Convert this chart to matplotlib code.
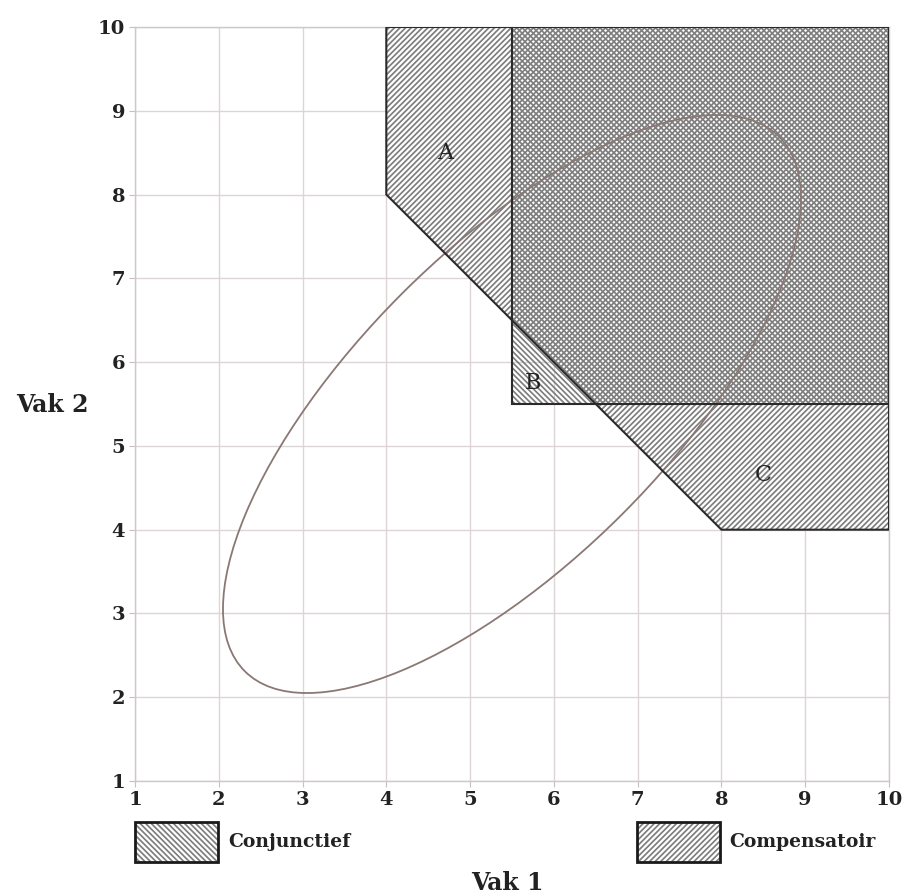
import numpy as np
import matplotlib
matplotlib.use("Agg")
import matplotlib.pyplot as plt
from matplotlib.patches import Polygon, Rectangle, Ellipse

# ---- data ----
x_ticks = [1, 2, 3, 4, 5, 6, 7, 8, 9, 10]
y_ticks = [1, 2, 3, 4, 5, 6, 7, 8, 9, 10]
axis_max = 10
conj_min = 5.5          # conjunctief: both scores >= 5.5
comp_sum = 12           # compensatoir: sum >= 12
comp_min = 4            # and each score >= 4
ellipse_center = (5.5, 5.5)
ellipse_width = 9.02    # full major axis
ellipse_height = 3.72   # full minor axis
ellipse_angle = 45
region_labels = ["A", "B", "C"]
region_label_pos = [(4.7, 8.5), (5.75, 5.75), (8.5, 4.65)]
legend_labels = ["Conjunctief", "Compensatoir"]

# ---- style ----
plt.rcParams['hatch.linewidth'] = 1.25
serif = ['DejaVu Serif']
hatch_col = '#7e7e7e'
text_col = '#222222'
h_ne = '//////'
h_nw = '\\\\\\\\\\\\'

fig = plt.figure(figsize=(9.15, 8.96), dpi=100)
ax = fig.add_axes([0.1475, 0.1283, 0.8241, 0.8416])
ax.set_xlim(x_ticks[0], x_ticks[-1])
ax.set_ylim(y_ticks[0], y_ticks[-1])
ax.set_xticks(x_ticks)
ax.set_yticks(y_ticks)
ax.grid(True, color='#ddd5d5', linewidth=1.0)
ax.set_axisbelow(True)
for s in ax.spines.values():
    s.set_color('#d0c8c8')
    s.set_linewidth(1.0)
ax.tick_params(length=4, color='#c8c0c0', labelsize=14, pad=3, labelcolor=text_col)
for lab in ax.get_xticklabels() + ax.get_yticklabels():
    lab.set_family(serif)
    lab.set_fontweight('bold')

# compensatoir polygon
comp_poly = [(comp_min, axis_max), (comp_min, comp_sum - comp_min),
             (comp_sum - comp_min, comp_min), (axis_max, comp_min),
             (axis_max, axis_max)]
# conjunctief rectangle
conj_poly = [(conj_min, conj_min), (conj_min, axis_max),
             (axis_max, axis_max), (axis_max, conj_min)]

ax.add_patch(Polygon(comp_poly, closed=True, facecolor='white', edgecolor='none', zorder=2))
ax.add_patch(Polygon(comp_poly, closed=True, facecolor='none', edgecolor=hatch_col,
                     hatch=h_ne, linewidth=0, zorder=3))
ax.add_patch(Polygon(conj_poly, closed=True, facecolor='none', edgecolor=hatch_col,
                     hatch=h_nw, linewidth=0, zorder=3))
ax.add_patch(Polygon(comp_poly, closed=True, facecolor='none', edgecolor='#2a2a2a',
                     linewidth=1.5, zorder=5))
ax.add_patch(Polygon(conj_poly, closed=True, facecolor='none', edgecolor='#2a2a2a',
                     linewidth=1.5, zorder=5))

ax.add_patch(Ellipse(ellipse_center, ellipse_width, ellipse_height, angle=ellipse_angle,
                     facecolor='none', edgecolor='#8a7874', linewidth=1.3, zorder=4))

for lab, (px, py) in zip(region_labels, region_label_pos):
    ax.text(px, py, lab, fontsize=16, family=serif, ha='center', va='center', zorder=6,
            color=text_col)

# legend boxes
box_w, box_h = 0.0907, 0.0446
for (bx, tx), lab, h in zip([(0.1475, 0.249), (0.696, 0.797)], legend_labels,
                            [h_nw, h_ne]):
    fig.patches.append(Rectangle((bx, 0.0379), box_w, box_h, transform=fig.transFigure,
                                 facecolor='none', edgecolor=hatch_col, hatch=h,
                                 linewidth=0))
    fig.patches.append(Rectangle((bx, 0.0379), box_w, box_h, transform=fig.transFigure,
                                 facecolor='none', edgecolor='#1a1a1a', linewidth=2.0))
    fig.text(tx, 0.0603, lab, fontsize=13.5, family=serif, fontweight='bold',
             ha='left', va='center', color=text_col)

fig.text(0.554, 0.015, "Vak 1", fontsize=17, family=serif, fontweight='bold',
         ha='center', va='center', color=text_col)
fig.text(0.057, 0.548, "Vak 2", fontsize=17, family=serif, fontweight='bold',
         ha='center', va='center', color=text_col)

fig.savefig("out.png", dpi=100, facecolor='white')
